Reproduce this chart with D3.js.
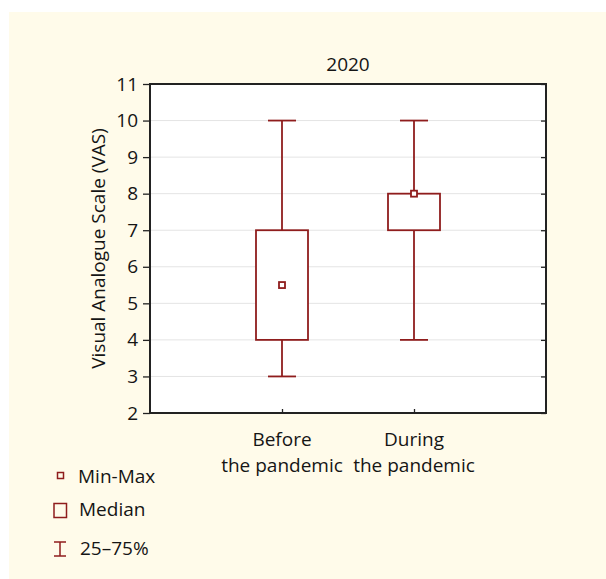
<!DOCTYPE html>
<html>
<head>
<meta charset="utf-8">
<script src="https://cdn.jsdelivr.net/npm/d3@7"></script>
<style>
  body { margin: 0; background: #fff; }
  text { font-family: "Open Sans", "Noto Sans", sans-serif; fill: #151515; }
</style>
</head>
<body>
<div id="chart"></div>
<script>
// data
var groups = ["Before|the pandemic", "During|the pandemic"];
var mins = [3, 4];
var maxs = [10, 10];
var q1s = [4, 7];
var q3s = [7, 8];
var medians = [5.5, 8];
var yTicks = [2, 3, 4, 5, 6, 7, 8, 9, 10, 11];
var title = "2020";
var legendLabels = ["Min-Max", "Median", "25\u201375%"];

var W = 606, H = 579;
var margin = {top: 84, right: 60, bottom: 166, left: 150},
    width = W - margin.left - margin.right,
    height = H - margin.top - margin.bottom;
var red = "#8f1d1d";
var fs = 19;

var root = d3.select("#chart").append("svg")
    .attr("width", W)
    .attr("height", H);

// beige panel
root.append("rect")
  .attr("x", 9).attr("y", 12)
  .attr("width", W - 9).attr("height", H - 12)
  .attr("fill", "#fffbea");

var svg = root.append("g")
    .attr("transform", "translate(" + margin.left + "," + margin.top + ")");

var x = d3.scalePoint()
  .domain(groups)
  .range([0, width])
  .padding(1);

var y = d3.scaleLinear()
  .domain([2, 11])
  .range([height, 0]);

svg.append("rect")
  .attr("width", width).attr("height", height)
  .attr("fill", "#fff");

// grid
svg.selectAll(".grid")
  .data(yTicks.slice(1, -1))
  .enter().append("line")
    .attr("x1", 0).attr("x2", width)
    .attr("y1", function(d) { return y(d); })
    .attr("y2", function(d) { return y(d); })
    .attr("stroke", "#e4e4e4")
    .attr("stroke-width", 1);

// left axis
var yAxis = svg.append("g")
  .call(d3.axisLeft(y).tickValues(yTicks).tickSize(7).tickPadding(5).tickFormat(d3.format("d")));
yAxis.select(".domain").remove();
yAxis.selectAll("line").attr("stroke", "#222").attr("stroke-width", 1.3);
yAxis.selectAll("text").attr("font-size", fs).attr("fill", "#151515")
  .attr("font-family", "'Open Sans', sans-serif");

// right axis, ticks inside
var yAxisR = svg.append("g")
  .attr("transform", "translate(" + width + ",0)")
  .call(d3.axisLeft(y).tickValues(yTicks).tickSize(5).tickFormat(""));
yAxisR.select(".domain").remove();
yAxisR.selectAll("line").attr("stroke", "#222").attr("stroke-width", 1.3);

// bottom axis, ticks inside
var xAxis = svg.append("g")
  .attr("transform", "translate(0," + height + ")")
  .call(d3.axisTop(x).tickSize(4).tickFormat(""));
xAxis.select(".domain").remove();
xAxis.selectAll("line").attr("stroke", "#222").attr("stroke-width", 1.3);

// frame
svg.append("rect")
  .attr("width", width).attr("height", height)
  .attr("fill", "none")
  .attr("stroke", "#222")
  .attr("stroke-width", 2);

// x labels
groups.forEach(function(g) {
  var t = svg.append("text")
    .attr("x", x(g))
    .attr("y", height + 33)
    .attr("text-anchor", "middle")
    .attr("font-size", fs);
  g.split("|").forEach(function(line, i) {
    t.append("tspan").attr("x", x(g)).attr("dy", i ? 26 : 0).text(line);
  });
});

// title
svg.append("text")
  .attr("x", width / 2).attr("y", -13)
  .attr("text-anchor", "middle")
  .attr("font-size", fs)
  .text(title);

// y label
svg.append("text")
  .attr("transform", "translate(-45," + (height / 2) + ") rotate(-90)")
  .attr("text-anchor", "middle")
  .attr("font-size", fs)
  .text("Visual Analogue Scale (VAS)");

// boxes
var boxW = 52, capW = 28, medS = 6;
groups.forEach(function(g, i) {
  var cx = x(g);
  var b = svg.append("g").attr("stroke", red).attr("stroke-width", 1.8).attr("fill", "none");
  // whiskers
  b.append("line").attr("x1", cx).attr("x2", cx).attr("y1", y(maxs[i])).attr("y2", y(q3s[i]));
  b.append("line").attr("x1", cx).attr("x2", cx).attr("y1", y(q1s[i])).attr("y2", y(mins[i]));
  b.append("line").attr("x1", cx - capW / 2).attr("x2", cx + capW / 2).attr("y1", y(maxs[i])).attr("y2", y(maxs[i]));
  b.append("line").attr("x1", cx - capW / 2).attr("x2", cx + capW / 2).attr("y1", y(mins[i])).attr("y2", y(mins[i]));
  // box
  b.append("rect")
    .attr("x", cx - boxW / 2).attr("y", y(q3s[i]))
    .attr("width", boxW).attr("height", y(q1s[i]) - y(q3s[i]))
    .attr("fill", "#fff");
  // median
  b.append("rect")
    .attr("x", cx - medS / 2).attr("y", y(medians[i]) - medS / 2)
    .attr("width", medS).attr("height", medS)
    .attr("fill", "#fff");
});

// legend
var lg = root.append("g").attr("stroke", red).attr("stroke-width", 1.5).attr("fill", "none");
lg.append("rect").attr("x", 57.5).attr("y", 472.5).attr("width", 6).attr("height", 6);
lg.append("rect").attr("x", 54).attr("y", 503.5).attr("width", 12.5).attr("height", 14);
lg.append("line").attr("x1", 60).attr("x2", 60).attr("y1", 542).attr("y2", 556);
lg.append("line").attr("x1", 54).attr("x2", 66).attr("y1", 542).attr("y2", 542);
lg.append("line").attr("x1", 54).attr("x2", 66).attr("y1", 556).attr("y2", 556);

var ly = [483, 516, 555];
var lx = [78, 79, 80];
legendLabels.forEach(function(l, i) {
  root.append("text")
    .attr("x", lx[i]).attr("y", ly[i])
    .attr("font-size", fs)
    .text(l);
});
</script>
</body>
</html>
